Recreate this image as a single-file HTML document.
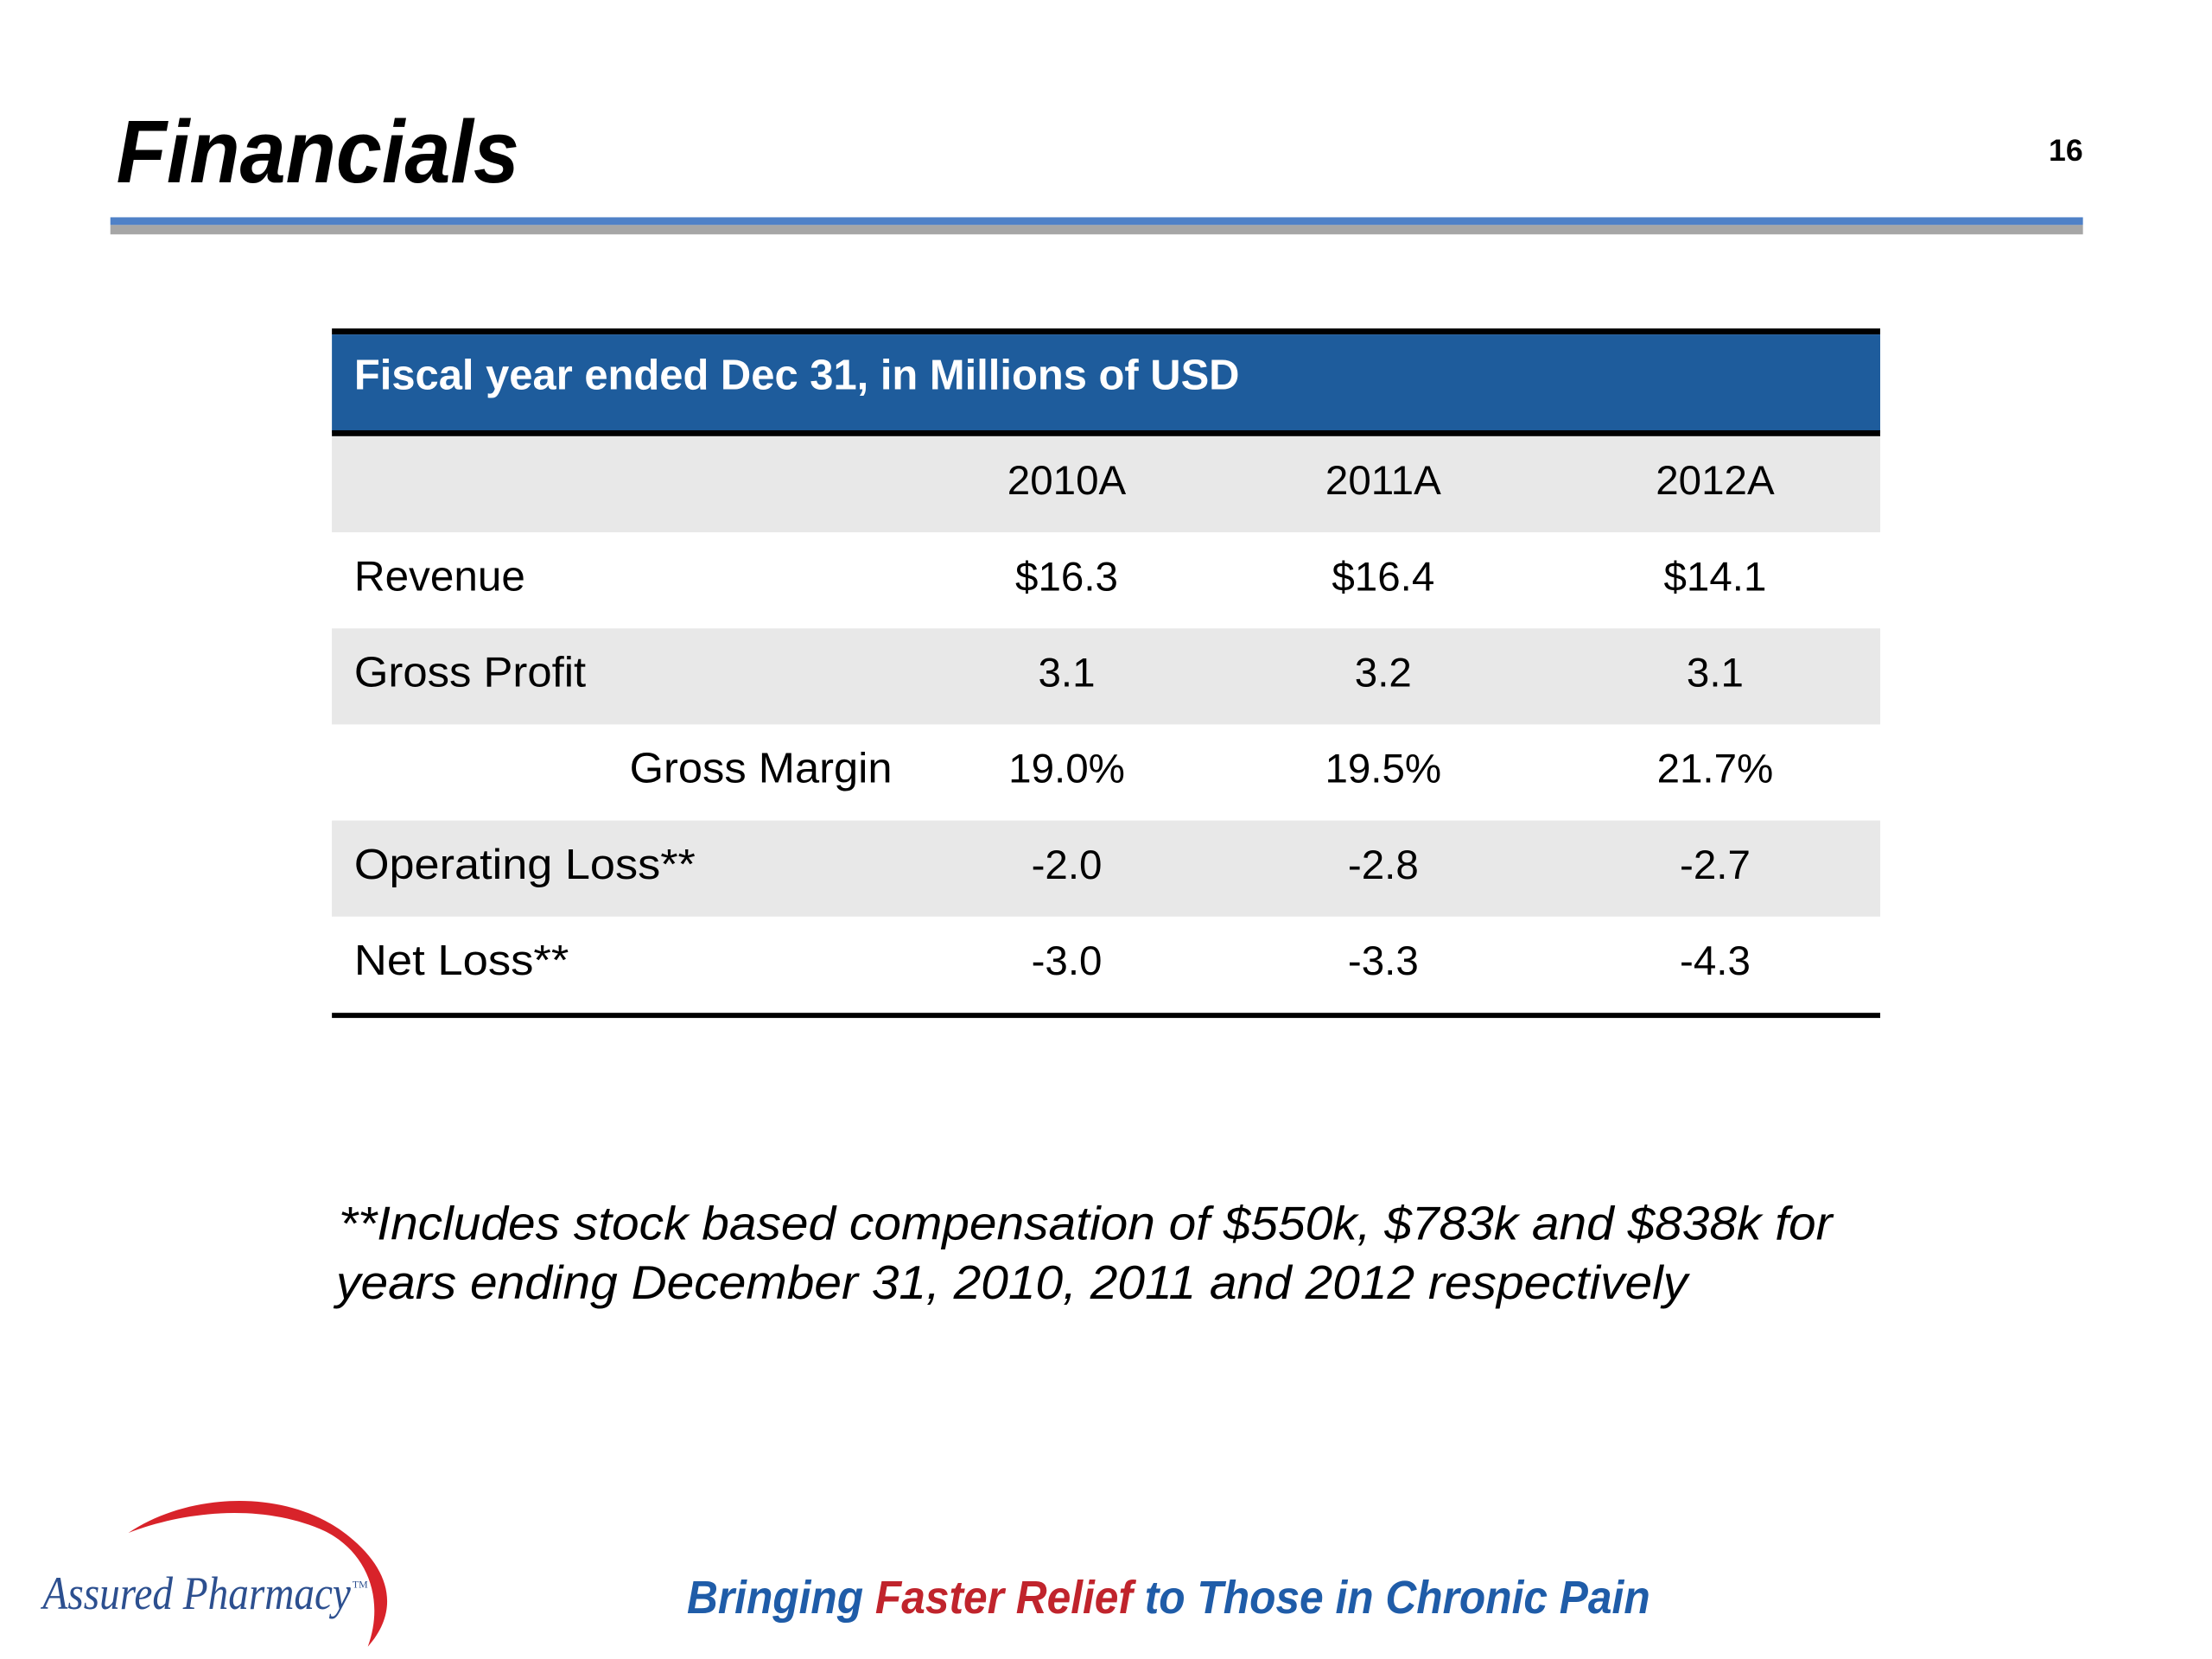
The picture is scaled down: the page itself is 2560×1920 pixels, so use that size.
<!DOCTYPE html>
<html><head><meta charset="utf-8"><style>
html,body{margin:0;padding:0;background:#fff}
svg{display:block}
</style></head><body>
<svg width="2560" height="1920" viewBox="0 0 2560 1920" font-family="Liberation Sans, sans-serif">
<rect x="0" y="0" width="2560" height="1920" fill="#fff"/>
<g transform="scale(0.99)">
<text x="136" y="213" font-size="104" font-weight="bold" font-style="italic" fill="#000" textLength="471" lengthAdjust="spacingAndGlyphs">Financials</text>
<text x="2435" y="188" font-size="36" font-weight="bold" text-anchor="end" fill="#000">16</text>
<rect x="129" y="254" width="2306" height="9" fill="#4f81c7"/>
<rect x="129" y="263" width="2306" height="11" fill="#a6a6a6"/>

<g>
<rect x="388" y="384" width="1810" height="7" fill="#000"/>
<rect x="388" y="391" width="1810" height="115" fill="#1e5c9c"/>
<rect x="388" y="503" width="1810" height="7" fill="#000"/>
<text x="414" y="455" font-size="50" font-weight="bold" fill="#fff" textLength="1035" lengthAdjust="spacingAndGlyphs">Fiscal year ended Dec 31, in Millions of USD</text>
<g id="rows"></g>
<rect x="388" y="1184" width="1810" height="6" fill="#000"/>
</g>

<text font-size="55" font-style="italic" fill="#000">
<tspan x="396" y="1449" textLength="1746" lengthAdjust="spacingAndGlyphs">**Includes stock based compensation of $550k, $783k and $838k for</tspan>
<tspan x="393" y="1518" textLength="1580" lengthAdjust="spacingAndGlyphs">years ending December 31, 2010, 2011 and 2012 respectively</tspan>
</text>

<g>
<path d="M150 1792 C 220 1745 330 1740 400 1790 C 455 1830 470 1880 430 1925 C 450 1870 430 1815 380 1790 C 310 1758 220 1765 150 1792 Z" fill="#d8232a"/>
<text x="50" y="1881" style="font-family:'Liberation Serif',serif" font-size="54" font-style="italic" fill="#2c4f8f" textLength="360" lengthAdjust="spacingAndGlyphs">Assured Pharmacy</text>
<text x="412" y="1856" style="font-family:'Liberation Serif',serif" font-size="12" fill="#2c4f8f">TM</text>
</g>

<text x="803" y="1886" font-size="54" font-weight="bold" font-style="italic" textLength="1126" lengthAdjust="spacingAndGlyphs"><tspan fill="#1f5ca8">Bringing </tspan><tspan fill="#c0242c">Faster Relief</tspan><tspan fill="#1f5ca8"> to Those in Chronic Pain</tspan></text>
</g>
</svg>
<script>
const years = ["2010A","2011A","2012A"];
const rowLabels = ["Revenue","Gross Profit","Gross Margin","Operating Loss**","Net Loss**"];
const revenue = ["$16.3","$16.4","$14.1"];
const grossProfit = ["3.1","3.2","3.1"];
const grossMargin = ["19.0%","19.5%","21.7%"];
const operatingLoss = ["-2.0","-2.8","-2.7"];
const netLoss = ["-3.0","-3.3","-4.3"];
const NS = "http://www.w3.org/2000/svg";
const g = document.getElementById('rows');
const colX = [1247,1617,2005];
const rowTop = 510, rowH = 112.3;
const rows = [["", years], [rowLabels[0], revenue], [rowLabels[1], grossProfit], [rowLabels[2], grossMargin], [rowLabels[3], operatingLoss], [rowLabels[4], netLoss]];
const labelW = [0,200,271,307,399,251];
rows.forEach((r, i) => {
  const y = rowTop + i * rowH;
  const bg = document.createElementNS(NS, 'rect');
  bg.setAttribute('x', 388); bg.setAttribute('y', y);
  bg.setAttribute('width', 1810); bg.setAttribute('height', rowH + 0.5);
  bg.setAttribute('fill', i % 2 === 0 ? '#e8e8e8' : '#ffffff');
  
  
  g.appendChild(bg);
  const base = y + 68;
  if (r[0]) {
    const t = document.createElementNS(NS, 'text');
    const isMargin = i === 3;
    t.setAttribute('x', isMargin ? 1043 : 414);
    t.setAttribute('y', base);
    t.setAttribute('font-size', 50);
    if (isMargin) t.setAttribute('text-anchor', 'end');
    t.setAttribute('textLength', labelW[i]);
    t.setAttribute('lengthAdjust', 'spacingAndGlyphs');
    t.textContent = r[0];
    
    
    g.appendChild(t);
  }
  r[1].forEach((v, j) => {
    const t = document.createElementNS(NS, 'text');
    t.setAttribute('x', colX[j]);
    t.setAttribute('y', base);
    t.setAttribute('font-size', 48);
    t.setAttribute('text-anchor', 'middle');
    t.textContent = v;
    
    
    g.appendChild(t);
  });
});
</script>
</body></html>
